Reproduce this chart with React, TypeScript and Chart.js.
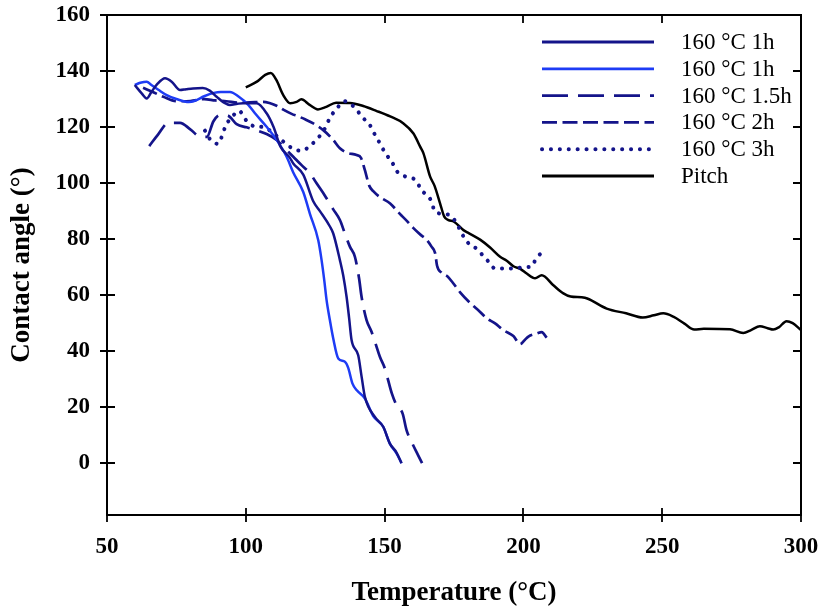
import { useEffect, useRef } from "react";
import { Chart, registerables } from "chart.js";

Chart.register(...registerables);

// ---------- data ----------
const seriesLabels = ["160 °C 1h", "160 °C 1h", "160 °C 1.5h", "160 °C 2h", "160 °C 3h", "Pitch"];
const xTickValues = [50, 100, 150, 200, 250, 300];
const yTickValues = [0, 20, 40, 60, 80, 100, 120, 140, 160];
const xTitle = "Temperature (°C)";
const yTitle = "Contact angle (°)";

const navy1hT = [60, 62.5, 64.3, 66, 68, 70.9, 73.3, 76.3, 78.5, 81, 84.5, 87, 89.5, 92, 94.3, 97, 99, 103.9, 107.5, 110, 112.5, 115.9, 117.1, 120.7, 124.3, 126.7, 130.3, 131.5, 133.9, 135.1, 136.3, 137.2, 138.1, 140.5, 141.7, 142.9, 146.5, 149.5, 151.9, 154.3, 156.1];
const navy1hA = [135, 132, 130.2, 132.5, 135.2, 137.4, 136.2, 133.2, 133.5, 133.8, 133.9, 133, 130.8, 128.8, 127.9, 128.3, 128.5, 128.5, 124.9, 120, 113, 109, 107, 103, 93.5, 90, 84.5, 82, 72.5, 67, 59.4, 52, 44, 38.5, 31, 23.7, 16.5, 13, 7, 3.8, 0];

const blue1hT = [60, 62, 64.3, 66, 68.5, 71.5, 75, 79.5, 81.7, 85, 88.5, 91, 94.3, 97.5, 100.9, 103.3, 107.5, 111.1, 114.7, 117.1, 120.7, 123.1, 126.1, 127.3, 128.3, 129.1, 130.3, 131.5, 133.3, 135.7, 136.9, 138.4, 140, 142.9, 145.9, 149.5, 151.9, 154.3, 156.1];
const blue1hA = [135, 135.8, 136.2, 135, 133.3, 131.4, 130, 128.9, 129.4, 131, 132.2, 132.5, 132.5, 130.8, 127.9, 124.9, 120.1, 115.4, 109.4, 103.8, 96.8, 89, 79.6, 72.5, 65, 58.2, 51, 44.5, 37.4, 36.2, 34, 28.5, 26, 23.1, 16.8, 13, 7, 3.5, 0];

const h15T = [65.2, 68.5, 72.1, 76.3, 80, 83.5, 86, 88.3, 90.7, 93.7, 96.7, 100.3, 104, 107.5, 111.1, 114, 117.1, 120, 123.1, 125.5, 128.5, 131.5, 133.9, 135.7, 137.5, 139.3, 140.8, 141.7, 143.5, 145.3, 146.8, 148.3, 150.1, 152.6, 154.3, 156.5, 157.9, 160, 162, 163.5];
const h15A = [113.2, 117.5, 121.5, 121.5, 119.2, 116.6, 116.5, 122, 124.3, 124, 121, 119.9, 118.8, 117.5, 115.4, 112.5, 109.4, 106.5, 103.5, 99.9, 95.5, 90.6, 86.8, 82, 77.3, 73.7, 66, 59.4, 51.1, 46.9, 42.5, 38, 33.8, 24.9, 20.7, 17.7, 11.8, 7, 3, 0];

const h2T = [63, 66.5, 70.3, 75.1, 80, 85, 89, 93, 97.9, 103.3, 106.3, 108.5, 111.1, 113.5, 116.5, 118.9, 121.5, 124.3, 127.9, 131.5, 133.9, 136.5, 139.9, 141.5, 142.9, 144.5, 146, 148.3, 152, 155.5, 158, 160.3, 163, 165.1, 166.9, 168.2, 168.9, 170.5, 172.5, 174.5, 177.2, 180.8, 184.4, 186.8, 189.8, 192.8, 196.4, 198.8, 200.5, 201.8, 204.8, 206.6, 208.4];
const h2A = [134, 132.5, 130.8, 129.2, 129.3, 130, 129.5, 129.2, 128.7, 128.9, 129, 128.6, 127.6, 126.2, 124.7, 123.8, 122.7, 121.3, 118.9, 115.4, 112.4, 110.8, 110, 109, 104.6, 99, 97, 95, 92.7, 89, 86.5, 84, 81.5, 79.8, 77.3, 75, 70.5, 68, 66.8, 64.5, 61, 57.2, 54, 51.7, 49.9, 47.5, 45.4, 42.5, 44, 45.2, 46.3, 46.8, 44.8];

const h3T = [85.3, 87.3, 90.1, 91.6, 92.8, 95, 97.5, 100.3, 103.3, 106.3, 109, 111.5, 114.5, 117, 120, 123.7, 126.3, 128.5, 130.3, 132.7, 135.5, 139.2, 141.9, 144.7, 146.5, 148.3, 150.3, 152.6, 154.6, 157.6, 161.2, 163.3, 166.6, 168.2, 171, 174.2, 176.6, 177.8, 180.2, 183.5, 185.5, 187.4, 189.8, 193.4, 197, 200, 202.8, 204.8, 207.5];
const h3A = [118.7, 115.4, 114, 117.3, 120.6, 123.5, 125.8, 122.2, 120.2, 120, 118.5, 116.5, 114, 112.3, 111.5, 113.8, 116.4, 119.5, 123.3, 126.5, 129.2, 127, 123.6, 120.7, 117.3, 114.2, 110.6, 107.6, 104, 102.3, 101, 97.5, 94, 89.8, 89, 88, 84.4, 82, 78.5, 76.3, 74, 72, 69.5, 69.5, 69.5, 70, 70.1, 73.5, 75.5];

const pitchT = [100, 104, 107, 109, 111, 113.5, 116, 118.3, 120, 123, 126, 129, 132.5, 137.5, 142.3, 147, 152, 156.8, 160.4, 162.8, 164, 166.4, 168, 170, 171.5, 173, 175, 178.4, 180, 184.4, 188, 191.6, 194, 196.4, 199, 201.2, 204.2, 206.6, 210.8, 214.4, 217, 221, 223, 230, 237, 243, 247, 250.4, 254, 258, 261.5, 265, 274.4, 279.2, 282, 285.2, 288, 290, 292, 294.8, 297, 300];
const pitchA = [134.2, 136.2, 138.6, 139.3, 136.8, 131.4, 128.5, 129, 129.9, 127.9, 126.3, 127.2, 128.7, 128.6, 127.5, 125.8, 123.8, 121.3, 117.7, 113, 110.6, 102.3, 99, 92.7, 88, 86.8, 86.2, 83.2, 82.3, 79.8, 77, 73.7, 72.3, 70.3, 69.3, 67.7, 66, 67.1, 63.5, 60.6, 59.5, 59.2, 58.8, 55.2, 53.5, 52, 52.8, 53.5, 52.3, 49.8, 47.7, 48, 47.8, 46.5, 47.5, 48.9, 48.2, 47.7, 48.5, 50.7, 50, 47.5];

// ---------- styles ----------
const NAVY = "#14148a";
const BLUE = "#1e3cf5";
const SERIF = '"Liberation Serif", "Times New Roman", serif';

const pts = (t: number[], a: number[]) => t.map((x, i) => ({ x, y: a[i] }));

const legendPlugin = {
  id: "customLegendFrame",
  afterDraw(chart: any) {
    const { ctx, chartArea } = chart;
    const { left, right, top, bottom } = chartArea;
    const xs = chart.scales.x;
    const ys = chart.scales.y;
    ctx.save();
    // frame
    ctx.setLineDash([]);
    ctx.strokeStyle = "#000";
    ctx.lineWidth = 2;
    ctx.strokeRect(left, top, right - left, bottom - top);
    ctx.lineWidth = 1.8;
    ctx.beginPath();
    xTickValues.forEach((v) => {
      const px = Math.round(xs.getPixelForValue(v));
      ctx.moveTo(px, bottom - 7);
      ctx.lineTo(px, bottom + 7);
      ctx.moveTo(px, top);
      ctx.lineTo(px, top + 8);
    });
    yTickValues.forEach((v) => {
      const py = Math.round(ys.getPixelForValue(v));
      ctx.moveTo(left - 7, py);
      ctx.lineTo(left + 8, py);
      ctx.moveTo(right - 8, py);
      ctx.lineTo(right, py);
    });
    ctx.stroke();

    // legend
    const lx0 = left + 435;
    const lx1 = left + 547;
    const tx = left + 574;
    chart.data.datasets.forEach((ds: any, i: number) => {
      const y = top + 27 + i * 26.8;
      ctx.strokeStyle = ds.borderColor;
      ctx.lineWidth = ds.legendWidth;
      ctx.lineCap = ds.borderCapStyle || "butt";
      ctx.setLineDash(ds.borderDash || []);
      ctx.beginPath();
      ctx.moveTo(lx0, y);
      ctx.lineTo(lx1, y);
      ctx.stroke();
      ctx.setLineDash([]);
      ctx.fillStyle = "#000";
      ctx.font = `23px ${SERIF}`;
      ctx.textBaseline = "middle";
      ctx.textAlign = "left";
      ctx.fillText(ds.label, tx, y + 1);
    });
    ctx.restore();
  },
};

export default function App() {
  const ref = useRef<HTMLCanvasElement | null>(null);
  useEffect(() => {
    document.body.style.margin = "0";
    const canvas = ref.current;
    if (!canvas) return;
    const tickFont = { family: SERIF, size: 23, weight: "bold" as const };
    const titleFont = { family: SERIF, size: 27, weight: "bold" as const };
    const chart = new Chart(canvas, {
      type: "line",
      data: {
        datasets: [
          { label: seriesLabels[0], data: pts(navy1hT, navy1hA), borderColor: NAVY, borderWidth: 2.5, legendWidth: 2.8 } as any,
          { label: seriesLabels[1], data: pts(blue1hT, blue1hA), borderColor: BLUE, borderWidth: 2.5, legendWidth: 2.8 } as any,
          { label: seriesLabels[2], data: pts(h15T, h15A), borderColor: NAVY, borderWidth: 2.7, borderDash: [26, 10], legendWidth: 2.8 } as any,
          { label: seriesLabels[3], data: pts(h2T, h2A), borderColor: NAVY, borderWidth: 2.7, borderDash: [15, 5.5], legendWidth: 2.8 } as any,
          { label: seriesLabels[4], data: pts(h3T, h3A), borderColor: NAVY, borderWidth: 4, borderDash: [0.1, 8.8], borderCapStyle: "round", legendWidth: 4 } as any,
          { label: seriesLabels[5], data: pts(pitchT, pitchA), borderColor: "#000", borderWidth: 2.5, legendWidth: 2.8 } as any,
        ],
      },
      options: {
        animation: false,
        responsive: false,
        devicePixelRatio: 1,
        layout: { padding: { top: 15, right: 19, left: 0, bottom: 0 } },
        plugins: { legend: { display: false }, tooltip: { enabled: false } },
        elements: { point: { radius: 0 }, line: { tension: 0, cubicInterpolationMode: "monotone", fill: false } },
        scales: {
          x: {
            type: "linear",
            min: 50,
            max: 300,
            afterBuildTicks: (s: any) => {
              s.ticks = xTickValues.map((v) => ({ value: v }));
            },
            afterFit: (s: any) => {
              s.height = 92;
              s.paddingLeft = 0;
              s.paddingRight = 0;
            },
            grid: { display: false, drawTicks: false },
            border: { display: false },
            ticks: { font: tickFont, color: "#000", padding: 18, maxRotation: 0, autoSkip: false },
            title: { display: true, text: xTitle, font: titleFont, color: "#000", padding: { top: 0, bottom: -2 } },
          },
          y: {
            type: "linear",
            min: -18.5,
            max: 160,
            afterBuildTicks: (s: any) => {
              s.ticks = yTickValues.map((v) => ({ value: v }));
            },
            afterFit: (s: any) => {
              s.width = 107;
              s.paddingTop = 0;
              s.paddingBottom = 0;
            },
            grid: { display: false, drawTicks: false },
            border: { display: false },
            ticks: { font: tickFont, color: "#000", padding: 17, autoSkip: false },
            title: { display: true, text: yTitle, font: titleFont, color: "#000", padding: { top: 6, bottom: 0 } },
          },
        },
      },
      plugins: [legendPlugin],
    });
    return () => chart.destroy();
  }, []);
  return <canvas ref={ref} width={820} height={607} style={{ display: "block", width: 820, height: 607 }} />;
}
